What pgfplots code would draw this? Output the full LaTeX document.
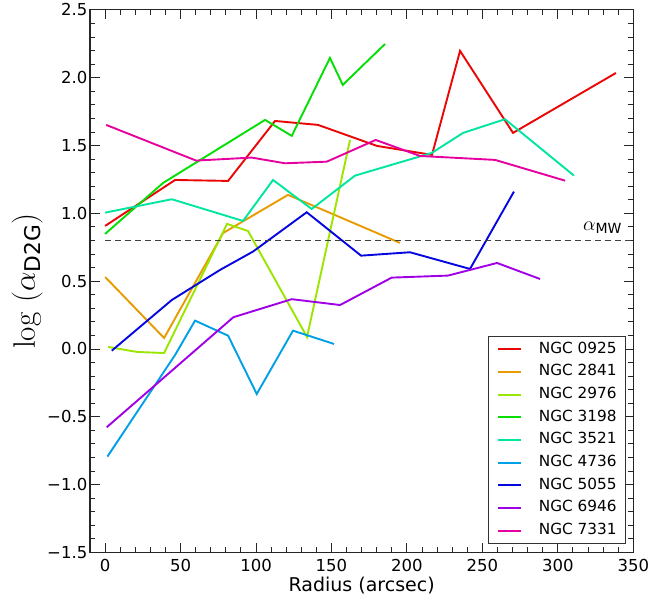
\RequirePackage{fix-cm}
\documentclass[border=0pt]{standalone}
\usepackage[no-math]{fontspec}
\setmainfont{DejaVu Sans}
\usepackage{amsmath}
\DeclareMathSizes{31}{31}{21.7}{15.5}
\DeclareMathSizes{20}{20}{14}{10}
\usepackage{pgfplots}
\pgfplotsset{compat=1.18}
\definecolor{colA}{RGB}{235,6,6}
\definecolor{colB}{RGB}{232,155,0}
\definecolor{colC}{RGB}{155,230,0}
\definecolor{colD}{RGB}{6,222,6}
\definecolor{colE}{RGB}{0,230,160}
\definecolor{colF}{RGB}{0,160,230}
\definecolor{colG}{RGB}{6,6,225}
\definecolor{colH}{RGB}{160,0,230}
\definecolor{colI}{RGB}{230,0,160}
\begin{document}
\begin{tikzpicture}
\begin{axis}[
  scale only axis, width=543.3pt, height=542.5pt,
  xmin=-10, xmax=350, ymin=-1.5, ymax=2.5,
  xtick={0,50,100,150,200,250,300,350},
  xticklabels={0,50,100,150,200,250,300,350},
  ytick={-1.5,-1,-0.5,0,0.5,1,1.5,2,2.5},
  yticklabels={−1.5,−1.0,−0.5,0.0,0.5,1.0,1.5,2.0,2.5},
  minor x tick num=4, minor y tick num=4,
  tick align=inside, major tick length=9.5pt, minor tick length=5pt,
  tick style={black!85, line width=0.9pt},
  axis line style={black!85, line width=1.2pt},
  ticklabel style={font=\fontsize{16.5}{19.8}\selectfont},
  xticklabel style={anchor=north, inner ysep=0pt, yshift=-6.6pt},
  yticklabel style={anchor=east, inner xsep=0pt, xshift=-2.5pt},
  xlabel={Radius (arcsec)},
  xlabel style={at={(axis description cs:0.5,0)}, anchor=north, yshift=-24pt, inner sep=0pt, font=\fontsize{19}{22}\selectfont},
  ylabel={$\log\ (\alpha_{\text{D2G}})$},
  ylabel style={at={(axis description cs:-0.087,0.5)}, rotate=0, anchor=south, inner sep=0pt, font=\fontsize{31}{36}\selectfont},
  legend cell align=left,
  legend image code/.code={\draw[#1, line width=2pt] (0pt,0pt) -- (23pt,0pt);},
  legend style={at={(1,0)}, anchor=south east, xshift=-7.3pt, yshift=8.4pt,
    draw=black!80, line width=0.8pt, inner xsep=9pt, inner ysep=5.5pt,
    row sep=8.2pt, column sep=16.7pt,
    font=\fontsize{15.3}{18}\selectfont,
    nodes={inner xsep=0pt, inner ysep=0pt, text height=11pt, text depth=3.5pt}},
  every axis plot/.append style={line width=1.9pt, line join=miter},
]
\addplot[color=colA] coordinates {(0,0.907) (46.4,1.246) (81.5,1.239) (112.6,1.681) (141.1,1.652) (180.2,1.497) (216.6,1.431) (235.2,2.198) (270.3,1.593) (338.5,2.035)};
\addlegendentry{NGC 0925}
\addplot[color=colB] coordinates {(0,0.531) (39.1,0.081) (78.2,0.855) (121.2,1.136) (195.4,0.782)};
\addlegendentry{NGC 2841}
\addplot[color=colC] coordinates {(2,0.015) (21.2,-0.022) (39.1,-0.03) (80.8,0.922) (94.7,0.87) (133.8,0.088) (162.3,1.541)};
\addlegendentry{NGC 2976}
\addplot[color=colD] coordinates {(0,0.848) (38.4,1.224) (106,1.689) (123.7,1.571) (149,2.146) (157.5,1.947) (185.5,2.249)};
\addlegendentry{NGC 3198}
\addplot[color=colE] coordinates {(0,1.005) (44.2,1.104) (91.4,0.944) (111.3,1.246) (136.9,1.032) (165.6,1.278) (216.4,1.445) (237.2,1.593) (265,1.694) (310.7,1.278)};
\addlegendentry{NGC 3521}
\addplot[color=colF] coordinates {(1.5,-0.794) (46.4,-0.044) (59.6,0.209) (81.5,0.098) (100.5,-0.332) (124.5,0.135) (151.7,0.037)};
\addlegendentry{NGC 4736}
\addplot[color=colG] coordinates {(4.4,-0.013) (44.2,0.361) (76.2,0.583) (98,0.718) (133.6,1.008) (169.6,0.688) (202,0.713) (241.8,0.59) (270.9,1.16)};
\addlegendentry{NGC 5055}
\addplot[color=colH] coordinates {(1.1,-0.577) (85,0.234) (123.7,0.367) (155.7,0.324) (189.9,0.526) (227.2,0.541) (259.7,0.634) (288.2,0.516)};
\addlegendentry{NGC 6946}
\addplot[color=colI] coordinates {(0.7,1.652) (60.3,1.389) (97.2,1.411) (119.2,1.369) (146.9,1.381) (179.3,1.541) (208.7,1.423) (258.4,1.394) (304.8,1.241)};
\addlegendentry{NGC 7331}
\addplot[black!75, line width=1.1pt, dash pattern=on 6pt off 4pt, forget plot] coordinates {(0,0.8) (350,0.8)};
\node[anchor=base east, inner sep=0pt, font=\fontsize{20}{24}\selectfont] at (axis cs:342.6,0.874) {$\alpha_{\text{MW}}$};
\end{axis}
\pgfresetboundingbox
\path[use as bounding box] ([xshift=-90pt,yshift=-44.6pt]current axis.south west) rectangle ([xshift=29.7pt,yshift=9.9pt]current axis.north east);
\end{tikzpicture}
\end{document}
